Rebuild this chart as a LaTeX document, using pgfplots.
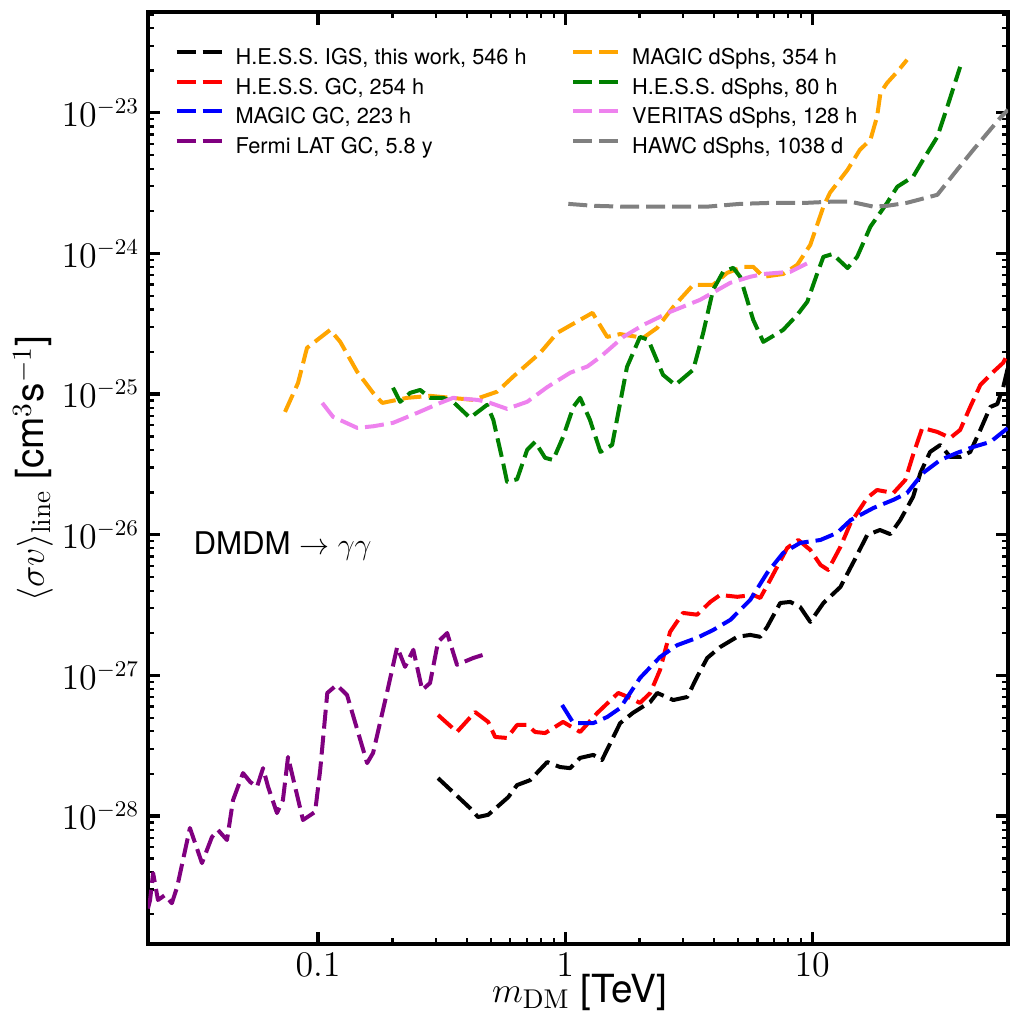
\documentclass[border=0pt]{standalone}
\usepackage{fontspec}
\newfontfamily\hv{TeX Gyre Heros}
\usepackage{pgfplots}
\pgfplotsset{compat=1.18}
\definecolor{mplorange}{HTML}{FFA500}
\definecolor{mplgreen}{HTML}{008000}
\definecolor{mplviolet}{HTML}{EE82EE}
\definecolor{mplpurple}{HTML}{800080}
\definecolor{mplgray}{HTML}{808080}
\begin{document}
\begin{tikzpicture}
\begin{axis}[
  scale only axis, width=344pt, height=372.8pt,
  xmode=log, ymode=log,
  xmin=0.0205, xmax=62, ymin=1.23e-29, ymax=5.2e-23,
  axis line style={line width=1.6pt},
  tick align=inside,
  major tick length=5pt, minor tick length=2.5pt,
  every major tick/.style={line width=1.3pt, black},
  every minor tick/.style={line width=0.9pt, black},
  xtick={0.1,1,10},
  xticklabels={$0.1$,$1$,$10$},
  log identify minor tick positions=true,
  tick label style={font=\fontsize{13.5}{16}\selectfont},
  xlabel={$m_{\mathrm{DM}}$ [TeV]},
  ylabel={$\langle\sigma v\rangle_{\mathrm{line}}$ [cm$^{3}$s$^{-1}$]},
  every axis x label/.style={at={(axis description cs:0.502,-0.0515)}, anchor=center, font=\hv\fontsize{15.5}{18}\selectfont},
  every axis y label/.style={at={(axis description cs:-0.1337,0.51)}, anchor=center, rotate=90, font=\hv\fontsize{15.5}{18}\selectfont},
  legend columns=2,
  legend cell align=left,
  legend image code/.code={\draw[#1] (0pt,2.5pt) -- (18pt,2.5pt);},
  legend style={at={(0.0303,0.963)}, anchor=north west, draw=none, fill=none, inner sep=0pt,
    font=\hv\fontsize{8.7}{10.5}\selectfont, row sep=2.8pt,
    nodes={inner sep=0pt, text height=7pt, text depth=2pt},
    /tikz/every odd column/.append style={column sep=4.8pt},
    /tikz/every even column/.append style={column sep=17.8pt}},
  every axis plot/.append style={line width=1.6pt, dash pattern=on 7.6pt off 2.8pt, line join=round},
]
% black
\addplot[black] coordinates {
(0.306,1.86e-28) (0.412,1.14e-28) (0.444,9.84e-29) (0.488,1.02e-28) (0.588,1.36e-28)
(0.639,1.66e-28) (0.722,1.80e-28) (0.846,2.42e-28) (0.954,2.23e-28) (1.048,2.19e-28)
(1.15,2.59e-28) (1.30,2.72e-28) (1.41,2.50e-28) (1.67,4.58e-28) (1.88,5.41e-28)
(2.21,6.47e-28) (2.36,7.50e-28) (2.74,6.68e-28) (3.12,7.02e-28) (3.42,9.75e-28)
(3.76,1.33e-27) (4.24,1.59e-27) (4.97,1.88e-27) (5.61,1.94e-27) (6.16,1.88e-27)
(6.57,2.21e-27) (7.42,3.27e-27) (8.15,3.33e-27) (8.94,3.06e-27) (9.82,2.40e-27)
(11.1,3.27e-27) (13.0,4.25e-27) (14.7,6.41e-27) (16.7,9.97e-27) (18.8,1.08e-26)
(20.7,1.01e-26) (22.7,1.27e-26) (25.6,1.86e-26) (27.4,2.75e-26) (30.0,3.88e-26)
(33.0,4.35e-26) (36.2,3.57e-26) (39.7,3.57e-26) (43.6,3.88e-26) (47.9,5.56e-26)
(52.6,8.11e-26) (56.1,8.49e-26) (59.3,1.12e-25) (62,1.55e-25)
};
\addlegendentry{H.E.S.S. IGS, this work, 546 h}
% orange
\addplot[mplorange] coordinates {
(0.0735,7.47e-26) (0.0830,1.20e-25) (0.0902,2.13e-25) (0.112,2.86e-25) (0.123,2.35e-25)
(0.144,1.44e-25) (0.167,1.02e-25) (0.182,8.65e-26) (0.229,9.40e-26) (0.284,9.71e-26)
(0.425,9.09e-26) (0.531,1.04e-25) (0.616,1.33e-25) (0.792,1.96e-25) (0.928,2.72e-25)
(1.15,3.37e-25) (1.29,3.78e-25) (1.48,2.55e-25) (1.67,2.67e-25) (2.07,2.51e-25)
(2.36,2.96e-25) (2.74,4.17e-25) (3.30,5.98e-25) (3.97,5.98e-25) (4.53,7.28e-25)
(5.26,8.03e-25) (5.77,8.03e-25) (6.34,6.82e-25) (7.63,7.14e-25) (8.70,8.30e-25)
(9.82,1.15e-24) (11.1,2.15e-24) (11.8,2.70e-24) (13.9,3.93e-24) (15.6,5.46e-24)
(17.2,6.43e-24) (18.3,9.37e-24) (18.9,1.39e-23) (20.1,1.63e-23) (22.1,1.96e-23)
(24.2,2.38e-23)
};
\addlegendentry{MAGIC dSphs, 354 h}
% red
\addplot[red] coordinates {
(0.306,5.23e-28) (0.365,3.96e-28) (0.432,5.49e-28) (0.488,4.67e-28) (0.521,3.65e-28)
(0.582,3.59e-28) (0.639,4.44e-28) (0.702,4.44e-28) (0.756,3.96e-28) (0.830,3.89e-28)
(0.981,4.67e-28) (1.15,3.96e-28) (1.35,5.41e-28) (1.64,7.50e-28) (1.80,7.02e-28)
(2.01,6.37e-28) (2.21,7.50e-28) (2.42,1.09e-27) (2.66,2.04e-27) (3.00,2.78e-27)
(3.42,2.70e-27) (3.87,3.33e-27) (4.24,3.73e-27) (4.97,3.62e-27) (5.77,3.73e-27)
(6.16,3.55e-27) (6.76,4.77e-27) (7.92,8.05e-27) (8.78,9.18e-27) (9.82,7.80e-27)
(10.8,6.10e-27) (11.6,5.62e-27) (13.0,8.19e-27) (14.3,1.21e-26) (16.7,1.83e-26)
(18.3,2.08e-26) (21.3,1.98e-26) (23.8,2.45e-26) (25.6,3.70e-26) (27.9,5.75e-26)
(32.1,5.38e-26) (36.2,4.88e-26) (39.7,5.56e-26) (43.6,8.11e-26) (47.9,1.16e-25)
(54.1,1.44e-25) (59.3,1.67e-25) (62,1.95e-25)
};
\addlegendentry{H.E.S.S. GC, 254 h}
% green
\addplot[mplgreen] coordinates {
(0.201,1.11e-25) (0.215,8.81e-26) (0.236,1.02e-25) (0.259,1.07e-25) (0.284,9.40e-26)
(0.321,9.40e-26) (0.352,8.81e-26) (0.412,6.78e-26) (0.483,8.38e-26) (0.512,6.56e-26)
(0.561,3.24e-26) (0.582,2.38e-26) (0.639,2.48e-26) (0.702,4.01e-26) (0.756,4.57e-26)
(0.830,3.52e-26) (0.894,3.40e-26) (0.981,4.96e-26) (1.08,8.11e-26) (1.15,9.40e-26)
(1.26,6.56e-26) (1.39,3.88e-26) (1.55,4.35e-26) (1.78,1.56e-25) (2.01,2.55e-25)
(2.17,2.43e-25) (2.49,1.37e-25) (2.79,1.16e-25) (3.30,1.49e-25) (3.62,2.72e-25)
(3.97,5.51e-25) (4.36,7.40e-25) (4.79,7.90e-25) (5.11,6.82e-25) (5.77,3.37e-25)
(6.34,2.35e-25) (7.63,2.86e-25) (8.70,3.66e-25) (9.55,4.53e-25) (10.5,7.28e-25)
(11.1,9.46e-25) (12.1,9.90e-25) (13.9,7.87e-25) (15.2,9.46e-25) (17.2,1.55e-24)
(20.1,2.29e-24) (22.1,2.98e-24) (25.6,3.51e-24) (28.1,4.63e-24) (32.1,6.75e-24)
(35.2,1.10e-23) (39.7,2.12e-23)
};
\addlegendentry{H.E.S.S. dSphs, 80 h}
% blue
\addplot[blue] coordinates {
(0.972,6.16e-28) (1.08,4.58e-28) (1.30,4.58e-28) (1.48,5.06e-28) (1.67,5.86e-28)
(2.01,9.59e-28) (2.42,1.35e-27) (2.84,1.64e-27) (3.42,1.85e-27) (3.97,2.10e-27)
(4.66,2.48e-27) (5.61,3.44e-27) (6.57,5.35e-27) (7.63,7.43e-27) (8.94,8.75e-27)
(10.8,9.18e-27) (12.6,1.03e-26) (14.3,1.27e-26) (17.7,1.55e-26) (21.3,1.77e-26)
(24.2,1.98e-26) (28.1,2.75e-26) (33.0,3.40e-26) (38.6,3.82e-26) (44.9,4.21e-26)
(52.6,4.57e-26) (62,5.75e-26)
};
\addlegendentry{MAGIC GC, 223 h}
% violet
\addplot[mplviolet] coordinates {
(0.104,8.65e-26) (0.115,6.89e-26) (0.144,5.75e-26) (0.167,5.90e-26) (0.201,6.24e-26)
(0.252,7.35e-26) (0.312,8.65e-26) (0.352,9.40e-26) (0.441,9.09e-26) (0.483,8.81e-26)
(0.582,7.85e-26) (0.702,8.81e-26) (0.846,1.12e-25) (1.05,1.42e-25) (1.23,1.57e-25)
(1.39,1.84e-25) (1.72,2.55e-25) (2.07,3.10e-25) (2.66,3.84e-25) (3.52,4.68e-25)
(4.66,6.18e-25) (5.61,6.82e-25) (6.34,7.14e-25) (8.15,7.40e-25) (9.82,8.71e-25)
};
\addlegendentry{VERITAS dSphs, 128 h}
% purple
\addplot[mplpurple] coordinates {
(0.0205,2.2e-29) (0.0209,2.53e-29) (0.0215,3.93e-29) (0.0225,2.53e-29) (0.0240,2.74e-29)
(0.0256,2.40e-29) (0.0269,3.13e-29) (0.0303,8.22e-29) (0.0339,4.63e-29) (0.0372,7.09e-29)
(0.0394,7.95e-29) (0.0428,6.75e-29) (0.0453,1.30e-28) (0.0497,2.02e-28) (0.0531,1.75e-28)
(0.0566,1.61e-28) (0.0599,2.19e-28) (0.0628,1.61e-28) (0.0682,1.05e-28) (0.0721,1.30e-28)
(0.0756,2.63e-28) (0.0869,9.37e-29) (0.0973,1.07e-28) (0.102,2.12e-28) (0.109,7.50e-28)
(0.119,8.55e-28) (0.131,7.26e-28) (0.158,2.38e-28) (0.167,2.81e-28) (0.190,7.50e-28)
(0.209,1.59e-27) (0.225,1.15e-27) (0.243,1.52e-27) (0.264,7.87e-28) (0.284,8.83e-28)
(0.306,1.73e-27) (0.333,2.00e-27) (0.365,1.19e-27) (0.425,1.33e-27) (0.466,1.40e-27)
};
\addlegendentry{Fermi LAT GC, 5.8 y}
% gray
\addplot[mplgray] coordinates {
(1.03,2.25e-24) (1.30,2.18e-24) (1.72,2.15e-24) (2.74,2.15e-24) (3.76,2.15e-24)
(5.11,2.25e-24) (6.95,2.29e-24) (9.55,2.29e-24) (11.8,2.33e-24) (14.3,2.33e-24)
(17.7,2.15e-24) (20.1,2.18e-24) (24.2,2.29e-24) (32.1,2.61e-24) (38.6,3.93e-24)
(44.9,5.46e-24) (57.7,9.21e-24) (62,1.05e-23)
};
\addlegendentry{HAWC dSphs, 1038 d}
\node[anchor=base west, inner sep=0pt, font=\hv\fontsize{12.5}{15}\selectfont] at (axis cs:0.0312,7.18e-27) {DMDM $\rightarrow\gamma\gamma$};
\end{axis}
\pgfresetboundingbox
\path[use as bounding box] (-59.2pt,-32pt) rectangle (350.4pt,377.6pt);
\end{tikzpicture}
\end{document}
